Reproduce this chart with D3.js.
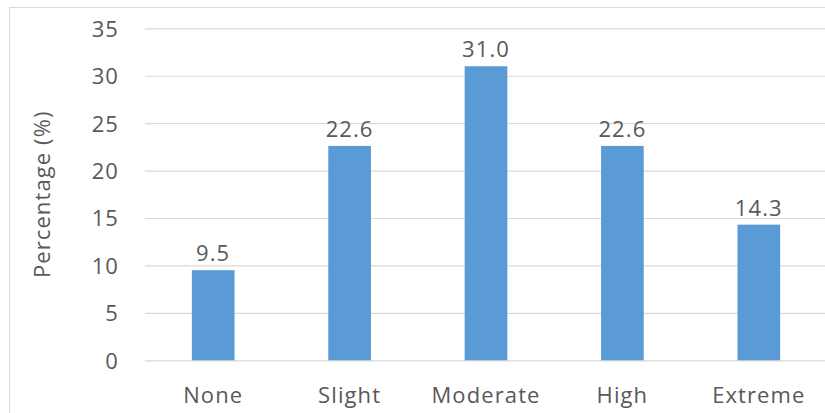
<!DOCTYPE html>
<html>
<head>
<meta charset="utf-8">
<script src="https://cdn.jsdelivr.net/npm/d3@7"></script>
<style>
  html, body { margin: 0; padding: 0; background: #fff; }
  svg { display: block; }
  text { font-family: "Open Sans", "Noto Sans", sans-serif; fill: #595959; letter-spacing: 1.1px; }
</style>
</head>
<body>
<div id="chart"></div>
<script>
// Share of respondents per level
const categories = ["None", "Slight", "Moderate", "High", "Extreme"];
const percentages = [9.5, 22.6, 31.0, 22.6, 14.3];
const yTicks = [0, 5, 10, 15, 20, 25, 30, 35];
const yTitle = "Percentage (%)";

const width = 825, height = 413;
const plot = { left: 145, right: 827, top: 28.3, bottom: 360.3 };

const svg = d3.select("#chart").append("svg")
  .attr("width", width).attr("height", height);

// chart frame
svg.append("rect")
  .attr("x", 9.5).attr("y", 7.5)
  .attr("width", width).attr("height", height)
  .attr("fill", "none").attr("stroke", "#d9d9d9").attr("stroke-width", 1);

const x = d3.scaleBand()
  .domain(categories)
  .range([plot.left, plot.right])
  .paddingInner(0.687).paddingOuter(0.3435);

const y = d3.scaleLinear().domain([0, 35]).range([plot.bottom, plot.top]);

// horizontal gridlines
const yAxis = d3.axisLeft(y).tickValues(yTicks).tickSize(-(plot.right - plot.left)).tickPadding(26);
const gy = svg.append("g").attr("transform", `translate(${plot.left},0)`).call(yAxis);
gy.select(".domain").remove();
gy.selectAll(".tick line").attr("stroke", "#d9d9d9").attr("stroke-width", 1.2);
gy.selectAll(".tick text").attr("font-size", 22).attr("fill", "#595959").attr("dy", "0.36em");

// bars
svg.append("g").selectAll("rect")
  .data(percentages)
  .join("rect")
  .attr("x", (d, i) => x(categories[i]))
  .attr("y", d => y(d))
  .attr("width", x.bandwidth())
  .attr("height", d => y(0) - y(d))
  .attr("fill", "#5b9bd5");

// value labels
svg.append("g").selectAll("text")
  .data(percentages)
  .join("text")
  .attr("x", (d, i) => x(categories[i]) + x.bandwidth() / 2)
  .attr("y", d => y(d) - 9)
  .attr("text-anchor", "middle")
  .attr("font-size", 22)
  .text(d => d.toFixed(1));

// category labels
const xAxis = d3.axisBottom(x).tickSize(0).tickPadding(0);
const gx = svg.append("g").attr("transform", `translate(0,${plot.bottom})`).call(xAxis);
gx.select(".domain").remove();
gx.selectAll(".tick text").attr("font-size", 22).attr("fill", "#595959")
  .attr("y", 43).attr("dy", 0);

// y-axis title
svg.append("text")
  .attr("transform", `translate(50,${(plot.top + plot.bottom) / 2}) rotate(-90)`)
  .attr("text-anchor", "middle")
  .attr("font-size", 22)
  .text(yTitle);
</script>
</body>
</html>
